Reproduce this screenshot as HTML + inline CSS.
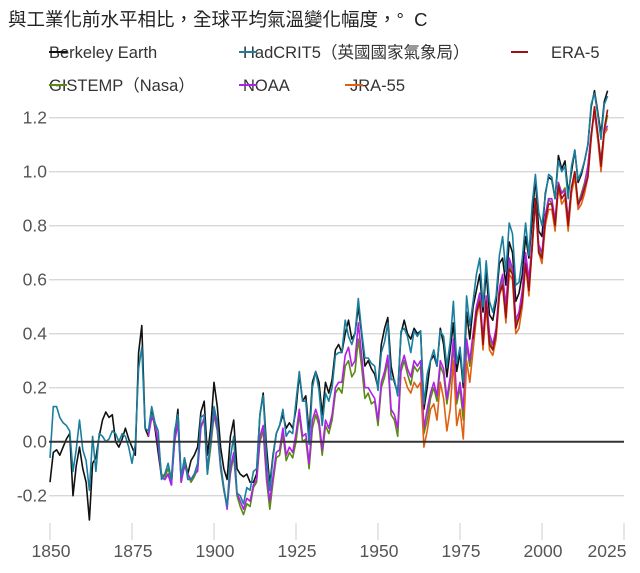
<!DOCTYPE html>
<html><head><meta charset="utf-8">
<style>
body{margin:0;background:#fff;}
svg{display:block;font-family:"Liberation Sans","Noto Sans CJK TC",sans-serif;}
</style></head>
<body>
<svg id="chart" width="640" height="573" viewBox="0 0 640 573">
<text x="8" y="26" font-size="18.5" fill="#222" xml:space="preserve">與工業化前水平相比，全球平均氣溫變化幅度，°  C</text>
<g font-size="16.5" fill="#333">
 <g><text x="49" y="58">Berkeley Earth</text><line x1="49" y1="52" x2="67" y2="52" stroke="#111" stroke-width="2"/></g>
 <g><text x="243" y="58">HadCRIT5（英國國家氣象局）</text><line x1="239" y1="52" x2="257" y2="52" stroke="#1a7f9e" stroke-width="2"/></g>
 <g><line x1="511" y1="52" x2="528" y2="52" stroke="#a01010" stroke-width="2"/><text x="551" y="58">ERA-5</text></g>
 <g><text x="49" y="91">GISTEMP（Nasa）</text><line x1="49" y1="85" x2="67" y2="85" stroke="#5a8a10" stroke-width="2"/></g>
 <g><text x="243" y="91">NOAA</text><line x1="239" y1="85" x2="257" y2="85" stroke="#b020e8" stroke-width="2"/></g>
 <g><text x="350" y="91">JRA-55</text><line x1="345" y1="85" x2="363" y2="85" stroke="#e06010" stroke-width="2"/></g>
</g>
<g id="grid"></g>
<g id="yax"></g>
<g id="xax"></g>
<g id="series"></g>
</svg>
<script>
const yTicks=[1.2,1.0,0.8,0.6,0.4,0.2,0.0,-0.2];
const yTickLabels=["1.2","1.0","0.8","0.6","0.4","0.2","0.0","-0.2"];
const xTicks=[1850,1875,1900,1925,1950,1975,2000,2025];
const xTickLabels=["1850","1875","1900","1925","1950","1975","2000","2025"];
const berkeleyStart=1850;
const berkeley=[-0.15,-0.04,-0.03,-0.05,-0.02,0.01,0.03,-0.20,-0.09,-0.02,
-0.10,-0.15,-0.29,-0.08,-0.06,0.02,0.08,0.11,0.09,0.10,
0.00,-0.02,0.01,0.05,0.01,-0.02,-0.05,0.33,0.43,0.05,
0.02,0.12,0.05,-0.04,-0.13,-0.14,-0.12,-0.16,0.02,0.12,
-0.15,-0.06,-0.12,-0.07,-0.05,-0.02,0.11,0.15,-0.05,0.05,
0.22,0.13,-0.02,-0.10,-0.14,0.02,0.08,-0.10,-0.12,-0.13,
-0.12,-0.15,-0.15,-0.12,0.10,0.18,-0.02,-0.16,-0.05,0.03,
0.06,0.10,0.05,0.07,0.05,0.12,0.25,0.15,0.17,0.03,
0.22,0.26,0.22,0.10,0.22,0.18,0.23,0.34,0.36,0.33,
0.40,0.45,0.38,0.40,0.50,0.40,0.28,0.30,0.27,0.25,
0.20,0.36,0.42,0.46,0.28,0.22,0.18,0.40,0.45,0.40,
0.38,0.42,0.40,0.41,0.12,0.20,0.30,0.32,0.28,0.42,
0.36,0.24,0.34,0.44,0.26,0.33,0.20,0.48,0.38,0.50,
0.56,0.62,0.48,0.63,0.47,0.45,0.52,0.66,0.68,0.58,
0.74,0.70,0.52,0.55,0.62,0.76,0.68,0.82,0.98,0.78,
0.76,0.92,0.98,0.97,0.90,1.06,1.01,1.04,0.92,1.00,
1.08,0.96,0.99,1.04,1.10,1.24,1.30,1.22,1.14,1.26,1.30];
const hadcrutStart=1850;
const hadcrut=[-0.06,0.13,0.13,0.09,0.07,0.06,0.04,-0.11,-0.03,0.08,
-0.03,-0.07,-0.18,0.02,-0.11,0.03,0.02,0.00,0.01,0.04,
0.03,0.00,0.03,0.02,-0.02,-0.08,-0.01,0.27,0.35,0.05,
0.04,0.13,0.07,0.04,-0.14,-0.12,-0.08,-0.14,0.04,0.10,
-0.13,-0.06,-0.14,-0.14,-0.12,-0.08,0.09,0.10,-0.12,0.01,
0.13,0.07,-0.08,-0.17,-0.24,-0.06,0.02,-0.19,-0.20,-0.23,
-0.17,-0.18,-0.11,-0.10,0.10,0.17,-0.06,-0.18,-0.06,0.03,
0.06,0.12,0.02,0.04,0.03,0.15,0.26,0.15,0.15,-0.01,
0.20,0.26,0.19,0.06,0.18,0.15,0.20,0.32,0.33,0.33,
0.45,0.39,0.36,0.40,0.53,0.41,0.31,0.31,0.29,0.28,
0.19,0.33,0.37,0.44,0.23,0.23,0.17,0.41,0.42,0.39,
0.33,0.41,0.39,0.41,0.14,0.25,0.30,0.34,0.28,0.41,
0.39,0.28,0.37,0.52,0.29,0.35,0.22,0.54,0.43,0.52,
0.62,0.68,0.50,0.67,0.52,0.48,0.54,0.69,0.76,0.63,
0.81,0.77,0.58,0.59,0.68,0.81,0.69,0.88,0.99,0.85,
0.80,0.91,0.99,0.98,0.90,1.04,1.00,1.02,0.90,1.02,
1.08,0.97,1.00,1.04,1.10,1.25,1.29,1.21,1.12,1.25,1.28];
const gistempStart=1880;
const gistemp=[0.03,0.10,0.06,0.00,-0.12,-0.13,-0.10,-0.14,0.00,0.08,
-0.14,-0.08,-0.12,-0.15,-0.13,-0.10,0.06,0.08,-0.12,-0.02,
0.10,0.04,-0.10,-0.18,-0.24,-0.12,-0.05,-0.20,-0.24,-0.27,
-0.23,-0.24,-0.17,-0.15,0.00,0.04,-0.14,-0.25,-0.15,-0.06,
-0.05,0.03,-0.07,-0.04,-0.06,0.00,0.10,0.00,0.01,-0.10,
0.05,0.10,0.06,-0.05,0.06,0.03,0.08,0.18,0.20,0.18,
0.28,0.30,0.24,0.26,0.38,0.28,0.16,0.18,0.14,0.15,
0.06,0.20,0.24,0.30,0.10,0.08,0.02,0.26,0.30,0.25,
0.21,0.28,0.26,0.28,0.03,0.08,0.16,0.20,0.15,0.28,
0.25,0.14,0.22,0.36,0.14,0.20,0.08,0.36,0.28,0.38,
0.48,0.54,0.36,0.52,0.38,0.34,0.40,0.56,0.60,0.48,
0.66,0.62,0.44,0.46,0.54,0.68,0.58,0.72,0.90,0.72,
0.68,0.82,0.90,0.88,0.80,0.96,0.92,0.94,0.82,0.94,
1.00,0.88,0.92,0.96,1.02,1.14,1.23,1.14,1.04,1.15,1.21];
const noaaStart=1880;
const noaa=[0.02,0.09,0.07,-0.01,-0.13,-0.14,-0.12,-0.16,0.00,0.07,
-0.15,-0.09,-0.12,-0.14,-0.12,-0.11,0.05,0.09,-0.10,0.00,
0.11,0.05,-0.09,-0.17,-0.25,-0.10,-0.04,-0.19,-0.22,-0.25,
-0.21,-0.22,-0.16,-0.14,0.02,0.06,-0.12,-0.22,-0.13,-0.04,
-0.03,0.05,-0.05,-0.02,-0.04,0.03,0.12,0.02,0.03,-0.08,
0.08,0.12,0.08,-0.03,0.08,0.05,0.10,0.20,0.22,0.22,
0.32,0.35,0.28,0.30,0.44,0.32,0.20,0.20,0.18,0.16,
0.08,0.22,0.26,0.32,0.12,0.10,0.05,0.28,0.32,0.27,
0.24,0.30,0.28,0.30,0.05,0.12,0.18,0.22,0.17,0.30,
0.27,0.16,0.24,0.38,0.16,0.22,0.12,0.38,0.30,0.40,
0.50,0.55,0.38,0.54,0.40,0.36,0.42,0.57,0.62,0.50,
0.68,0.64,0.45,0.48,0.56,0.70,0.60,0.74,0.90,0.73,
0.70,0.84,0.90,0.90,0.82,0.96,0.92,0.93,0.82,0.94,
0.99,0.87,0.91,0.95,1.02,1.14,1.22,1.12,1.04,1.15,1.17];
const era5Start=1979;
const era5=[0.38,
0.48,0.52,0.36,0.52,0.36,0.34,0.40,0.55,0.58,0.46,
0.64,0.62,0.42,0.46,0.52,0.66,0.56,0.72,0.90,0.70,
0.68,0.82,0.88,0.88,0.80,0.95,0.90,0.92,0.80,0.94,
1.00,0.88,0.90,0.94,0.98,1.13,1.24,1.14,1.02,1.16,1.23];
const jra55Start=1958;
const jra55=[0.24,0.20,
0.18,0.22,0.20,0.22,-0.02,0.04,0.12,0.14,0.08,0.22,
0.16,0.04,0.12,0.30,0.06,0.12,0.01,0.30,0.22,0.34,
0.46,0.52,0.34,0.50,0.34,0.32,0.38,0.54,0.58,0.44,
0.62,0.60,0.40,0.42,0.50,0.66,0.54,0.72,0.90,0.70,
0.66,0.80,0.86,0.86,0.78,0.94,0.88,0.90,0.78,0.92,
0.98,0.86,0.88,0.92,0.98,1.12,1.24,1.12,1.00,1.14,1.16];

const NS="http://www.w3.org/2000/svg";
function xS(yr){return 50+(yr-1850)*3.28;}
function yS(v){return 441.7-v*270;}
function mk(tag,attrs,parent){const e=document.createElementNS(NS,tag);for(const k in attrs)e.setAttribute(k,attrs[k]);parent.appendChild(e);return e;}
const grid=document.getElementById('grid'),yax=document.getElementById('yax'),xax=document.getElementById('xax'),ser=document.getElementById('series');
yTicks.forEach((v,i)=>{
  if(v!==0){const g=mk('line',{x1:49,x2:624,y1:yS(v),y2:yS(v),stroke:'#d8d8d8','stroke-width':1.3},grid);
  
  }
  const t=mk('text',{x:47,y:yS(v)+6,'text-anchor':'end','font-size':17.5,fill:'#555'},yax);
  t.textContent=yTickLabels[i];
  
  
});
xTicks.forEach((yr,i)=>{
  const l=mk('line',{x1:xS(yr),x2:xS(yr),y1:523,y2:540,stroke:'#d8d8d8','stroke-width':1.3},xax);
  
  
  let cx=xS(yr)+1; if(i===xTicks.length-1)cx=607;
  const t=mk('text',{x:cx,y:557,'text-anchor':'middle','font-size':17.5,fill:'#555'},xax);
  t.textContent=xTickLabels[i];
  
  
});
function drawSeries(arr,start,color,name){
  const d=arr.map((v,i)=>(i?'L':'M')+xS(start+i).toFixed(1)+' '+yS(v).toFixed(1)).join(' ');
  const p=mk('path',{d:d,fill:'none',stroke:color,'stroke-width':1.6,'stroke-linejoin':'round'},ser);
  
  
}
drawSeries(berkeley,berkeleyStart,'#111','line-berkeley-earth');
drawSeries(gistemp,gistempStart,'#5a8a10','line-gistemp');
drawSeries(noaa,noaaStart,'#b020e8','line-noaa');
drawSeries(jra55,jra55Start,'#e06010','line-jra55');
drawSeries(era5,era5Start,'#a01010','line-era5');
drawSeries(hadcrut,hadcrutStart,'#1a7f9e','line-hadcrut5');
const z=mk('line',{x1:49,x2:624,y1:yS(0),y2:yS(0),stroke:'#333','stroke-width':2},ser);


</script>
</body></html>
